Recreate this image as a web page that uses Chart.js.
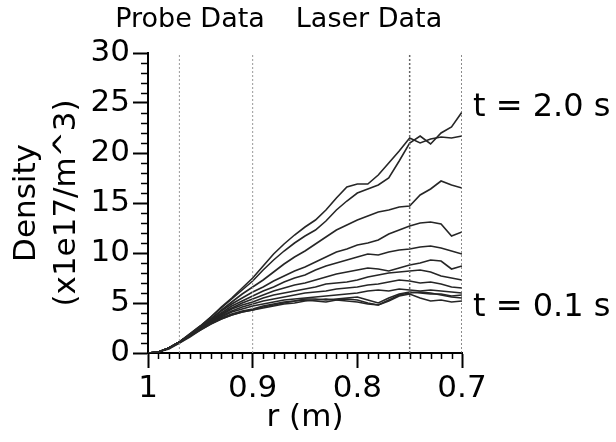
<!DOCTYPE html>
<html><head><meta charset="utf-8">
<script src="https://cdn.jsdelivr.net/npm/chart.js@4.4.1/dist/chart.umd.min.js"></script>
<style>html,body{margin:0;padding:0;background:#fff}#wrap{width:616px;height:442px}</style>
</head><body><div id="wrap"><canvas id="c" width="616" height="442"></canvas></div>
<script>
const radius = [1.00,0.99,0.98,0.97,0.96,0.95,0.94,0.93,0.92,0.91,0.90,0.89,0.88,0.87,0.86,0.85,0.84,0.83,0.82,0.81,0.80,0.79,0.78,0.77,0.76,0.75,0.74,0.73,0.72,0.71,0.70];
const densityA = [0,0.1,0.5,1.1,1.9,2.7,3.6,4.6,5.5,6.5,7.5,8.7,9.9,10.9,11.8,12.6,13.3,14.3,15.5,16.6,16.9,16.9,17.8,19.0,20.2,21.5,21.0,21.4,21.6,21.5,21.7];
const densityB = [0,0.1,0.5,1.1,1.9,2.7,3.6,4.5,5.4,6.3,7.2,8.3,9.3,10.2,11.0,11.7,12.3,13.2,14.3,15.2,16.0,16.4,16.8,17.5,19.2,21.0,21.7,20.9,22.0,22.6,24.1];
const densityC = [0,0.1,0.5,1.1,1.8,2.6,3.4,4.3,5.1,5.9,6.6,7.3,8.1,8.9,9.6,10.2,10.9,11.6,12.3,12.8,13.3,13.7,14.1,14.3,14.6,14.7,15.8,16.4,17.2,16.8,16.5];
const densityD = [0,0.1,0.5,1.1,1.8,2.6,3.4,4.2,4.9,5.5,6.1,6.6,7.2,7.7,8.2,8.6,9.1,9.6,10.1,10.4,10.8,11.0,11.3,11.9,12.3,12.7,13.0,13.1,12.9,11.7,12.1];
const densityE = [0,0.1,0.5,1.1,1.8,2.5,3.3,4.0,4.7,5.2,5.7,6.2,6.6,7.1,7.5,7.8,8.3,8.7,9.0,9.3,9.6,9.9,9.8,10.1,10.3,10.4,10.6,10.7,10.5,10.2,9.9];
const densityF = [0,0.1,0.5,1.1,1.8,2.5,3.2,3.9,4.5,5.0,5.4,5.8,6.2,6.5,6.8,7.0,7.3,7.6,7.9,8.1,8.3,8.5,8.4,8.2,8.5,8.8,9.0,9.3,9.2,8.4,8.7];
const densityG = [0,0.1,0.5,1.1,1.8,2.5,3.2,3.8,4.4,4.8,5.1,5.5,5.8,6.0,6.2,6.4,6.6,6.9,7.0,7.1,7.3,7.6,7.8,8.0,8.1,8.2,8.3,8.1,7.7,7.5,7.3];
const densityH = [0,0.1,0.5,1.1,1.8,2.5,3.1,3.7,4.2,4.6,4.9,5.2,5.4,5.6,5.8,6.0,6.1,6.2,6.4,6.5,6.6,6.8,6.9,7.1,7.3,7.2,7.0,7.1,6.9,6.6,6.5];
const densityI = [0,0.1,0.5,1.1,1.8,2.4,3.0,3.6,4.1,4.4,4.7,4.9,5.1,5.3,5.4,5.5,5.6,5.7,5.8,5.9,6.0,6.2,6.3,6.2,6.4,6.3,6.2,6.3,6.2,6.1,6.0];
const densityJ = [0,0.1,0.5,1.1,1.7,2.4,3.0,3.5,3.9,4.2,4.4,4.7,4.9,5.1,5.2,5.4,5.4,5.3,5.4,5.5,5.6,5.3,5.0,5.5,5.9,6.1,6.0,5.9,5.9,5.7,5.8];
const densityK = [0,0.1,0.5,1.0,1.7,2.3,2.9,3.4,3.8,4.1,4.3,4.6,4.8,5.0,5.2,5.3,5.2,5.1,5.3,5.4,5.3,5.0,4.8,5.3,5.8,6.0,6.1,6.0,5.8,5.6,5.5];
const densityL = [0,0.1,0.4,1.0,1.6,2.3,2.9,3.4,3.8,4.1,4.3,4.5,4.7,4.9,5.0,5.2,5.3,5.4,5.3,5.2,5.1,4.9,4.8,5.2,5.7,5.9,5.5,5.2,5.3,5.1,5.2];
const allSeries = [densityA,densityB,densityC,densityD,densityE,densityF,densityG,densityH,densityI,densityJ,densityK,densityL];
const markerRadii = [0.97, 0.9, 0.75, 0.7];
const markerColors = ['#9a9a9a','#9a9a9a','#666','#666'];
const regionLabels = ['Probe Data','Laser Data'];
const timeLabels = ['t = 2.0 s','t = 0.1 s'];
const timeLabelDensity = [24.5, 4.5];
const yTitle = ['Density','(x1e17/m^3)'];
const xTitle = 'r (m)';

const FONT = '"DejaVu Sans", sans-serif';

const datasets = [];
markerRadii.forEach((r,i) => {
  datasets.push({
    data: [{x:r,y:0},{x:r,y:30}],
    borderColor: markerColors[i], borderWidth: i < 2 ? 1 : 1.5, borderDash: [2,2],
    pointRadius: 0, fill: false
  });
});
allSeries.forEach(s => {
  datasets.push({
    data: radius.map((r,i) => ({x:r, y:s[i]})),
    borderColor: '#262626', borderWidth: 1.6, pointRadius: 0, fill: false, tension: 0
  });
});

const minorTicks = {
  id: 'minorTicks',
  afterDraw(chart) {
    const {ctx, scales:{x, y}} = chart;
    ctx.save();
    ctx.strokeStyle = '#000';
    ctx.lineWidth = 1.5;
    for (let k = 71; k < 100; k++) {
      if (k % 10 === 0) continue;
      const px = Math.round(x.getPixelForValue(k/100)) + 0.5;
      ctx.beginPath(); ctx.moveTo(px, x.top); ctx.lineTo(px, x.top + 6); ctx.stroke();
    }
    for (let k = 1; k < 30; k++) {
      if (k % 5 === 0) continue;
      const py = Math.round(y.getPixelForValue(k)) + 0.5;
      ctx.beginPath(); ctx.moveTo(y.right, py); ctx.lineTo(y.right - 7, py); ctx.stroke();
    }
    ctx.restore();
  }
};

const annotations = {
  id: 'annotations',
  afterDraw(chart) {
    const {ctx, chartArea, scales:{x, y}} = chart;
    ctx.save();
    ctx.fillStyle = '#000';
    ctx.textBaseline = 'middle';
    ctx.textAlign = 'center';
    ctx.font = '27px ' + FONT;
    ctx.fillText(regionLabels[0], 190, chartArea.top - 33);
    ctx.fillText(regionLabels[1], 369, chartArea.top - 33);
    ctx.textAlign = 'left';
    ctx.font = '32px ' + FONT;
    timeLabels.forEach((t,i) => {
      ctx.fillText(t, chartArea.right + 11, y.getPixelForValue(timeLabelDensity[i]));
    });
    ctx.restore();
  }
};

new Chart(document.getElementById('c'), {
  type: 'line',
  data: { datasets },
  options: {
    responsive: false, animation: false, devicePixelRatio: 1,
    layout: { padding: { top: 53, right: 154, left: 0, bottom: 0 } },
    plugins: { legend: {display:false}, tooltip: {enabled:false} },
    scales: {
      x: {
        type: 'linear', reverse: true, min: 0.7, max: 1.0,
        ticks: { stepSize: 0.1, color: '#000', font: {family: FONT, size: 31}, padding: 2,
                 maxRotation: 0, autoSkip: false,
                 callback: v => String(Number(v.toFixed(2))) },
        grid: { drawOnChartArea: false, drawTicks: true, tickLength: 15, tickWidth: 2, tickColor: '#000' },
        border: { display: true, color: '#000', width: 2 },
        title: { display: true, text: xTitle, color: '#000', font: {family: FONT, size: 31, lineHeight: 1.2}, padding: {top: 0, bottom: 5} },
        afterFit: s => { s.height = 89; }
      },
      y: {
        min: 0, max: 30,
        ticks: { stepSize: 5, color: '#000', font: {family: FONT, size: 31}, padding: 3 },
        grid: { drawOnChartArea: false, drawTicks: true, tickLength: 15, tickWidth: 2, tickColor: '#000' },
        border: { display: true, color: '#000', width: 2 },
        title: { display: true, text: yTitle, color: '#000', font: {family: FONT, size: 31, lineHeight: '40px'}, padding: {top: 7, bottom: 0} },
        afterFit: s => { s.width = 148; }
      }
    }
  },
  plugins: [minorTicks, annotations]
});
</script>
</body></html>
